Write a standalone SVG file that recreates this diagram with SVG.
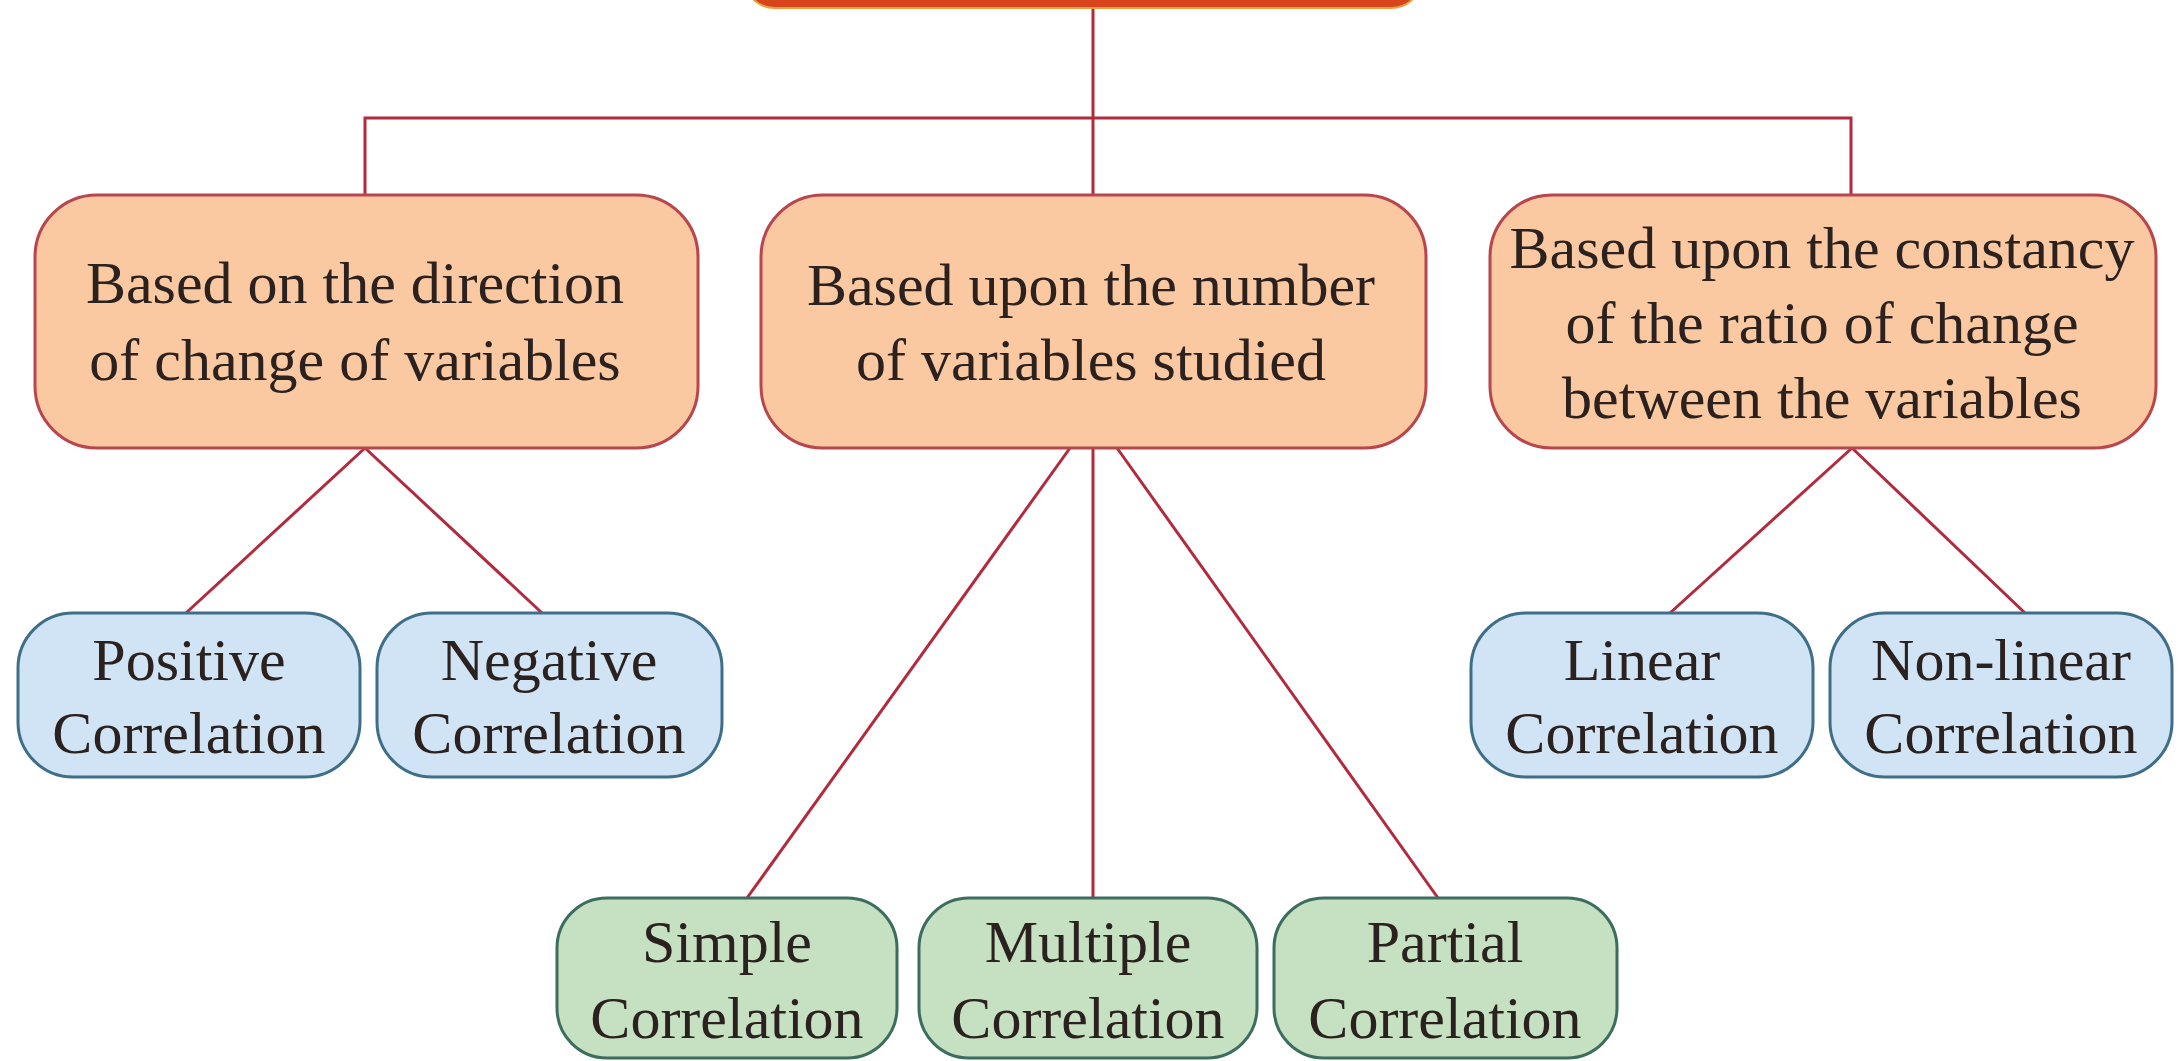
<svg xmlns="http://www.w3.org/2000/svg" width="2183" height="1061" viewBox="0 0 2183 1061">
<style>
text{font-family:"Liberation Serif","Times New Roman",serif;font-size:60px;fill:#2b2220;text-anchor:middle}
.l1{fill:#fbc9a1;stroke:#b8464c;stroke-width:3}
.bl{fill:#d0e4f5;stroke:#3e6e88;stroke-width:3}
.gr{fill:#c6e1c1;stroke:#3c6d5f;stroke-width:3}
.c{fill:none;stroke:#b22a3e;stroke-width:3}
</style>
<rect width="2183" height="1061" fill="#ffffff"/>
<g id="connectors">
<line class="c" x1="1093" y1="8" x2="1093" y2="195"/>
<polyline class="c" points="365,195 365,118 1851,118 1851,195"/>
<line class="c" x1="365" y1="448" x2="186" y2="613"/>
<line class="c" x1="365" y1="448" x2="542" y2="613"/>
<line class="c" x1="1070" y1="448" x2="747" y2="898"/>
<line class="c" x1="1093" y1="448" x2="1093" y2="898"/>
<line class="c" x1="1117" y1="448" x2="1438" y2="898"/>
<line class="c" x1="1852" y1="448" x2="1670" y2="613"/>
<line class="c" x1="1852" y1="448" x2="2025" y2="613"/>
</g>
<g id="root">
<rect x="747" y="-40" width="672" height="48" rx="28" fill="#d8441c" stroke="#e8a040" stroke-width="2"/>
</g>
<g id="n-direction">
<rect class="l1" x="35" y="195" width="663" height="253" rx="62"/>
<text x="355" y="303">Based on the direction</text>
<text x="355" y="380">of change of variables</text>
</g>
<g id="n-number">
<rect class="l1" x="761" y="195" width="665" height="253" rx="62"/>
<text x="1091" y="305">Based upon the number</text>
<text x="1091" y="380">of variables studied</text>
</g>
<g id="n-constancy">
<rect class="l1" x="1490" y="195" width="666" height="253" rx="62"/>
<text x="1822" y="268">Based upon the constancy</text>
<text x="1822" y="343">of the ratio of change</text>
<text x="1822" y="418">between the variables</text>
</g>
<g id="n-positive">
<rect class="bl" x="18" y="613" width="342" height="164" rx="55"/>
<text x="189" y="680">Positive</text>
<text x="189" y="753">Correlation</text>
</g>
<g id="n-negative">
<rect class="bl" x="377" y="613" width="345" height="164" rx="55"/>
<text x="549" y="680">Negative</text>
<text x="549" y="753">Correlation</text>
</g>
<g id="n-linear">
<rect class="bl" x="1471" y="613" width="342" height="164" rx="55"/>
<text x="1642" y="680">Linear</text>
<text x="1642" y="753">Correlation</text>
</g>
<g id="n-nonlinear">
<rect class="bl" x="1830" y="613" width="342" height="164" rx="55"/>
<text x="2001" y="680">Non-linear</text>
<text x="2001" y="753">Correlation</text>
</g>
<g id="n-simple">
<rect class="gr" x="557" y="898" width="340" height="160" rx="50"/>
<text x="727" y="962">Simple</text>
<text x="727" y="1038">Correlation</text>
</g>
<g id="n-multiple">
<rect class="gr" x="919" y="898" width="338" height="160" rx="50"/>
<text x="1088" y="962">Multiple</text>
<text x="1088" y="1038">Correlation</text>
</g>
<g id="n-partial">
<rect class="gr" x="1274" y="898" width="343" height="160" rx="50"/>
<text x="1445" y="962">Partial</text>
<text x="1445" y="1038">Correlation</text>
</g>
</svg>
